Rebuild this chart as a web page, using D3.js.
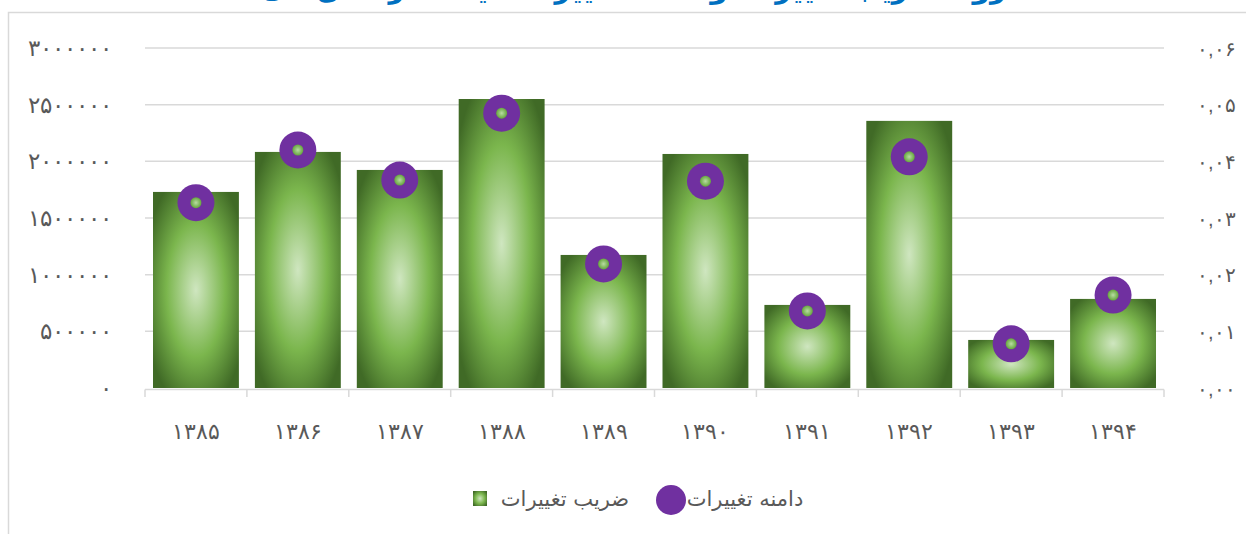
<!DOCTYPE html>
<html>
<head>
<meta charset="utf-8">
<script src="https://cdn.jsdelivr.net/npm/d3@7"></script>
<style>
  body { margin: 0; background: #fff; }
  svg { display: block; font-family: "DejaVu Sans", sans-serif; }
  .tickLabel { fill: #595959; font-size: 20px; }
  .leftLabel { font-size: 23px; }
  .legendLabel { fill: #595959; font-size: 21px; }
</style>
</head>
<body>
<div id="chart"></div>
<script>
// years (shamsi), bar values (left axis) and marker values (right axis)
var years = [1385, 1386, 1387, 1388, 1389, 1390, 1391, 1392, 1393, 1394];
var barValues = [1730000, 2083000, 1924000, 2550000, 1174000, 2065000, 733000, 2357000, 424000, 786000];
var rangeValues = [0.0327, 0.0420, 0.0367, 0.0485, 0.0219, 0.0365, 0.0136, 0.0408, 0.0078, 0.0164];
var leftTicks = [0, 500000, 1000000, 1500000, 2000000, 2500000, 3000000];
var rightTicks = [0, 0.01, 0.02, 0.03, 0.04, 0.05, 0.06];
var barName = "ضریب تغییرات";
var rangeName = "دامنه تغییرات";
var titleText = "روند ضریب تغییرات و دامنه تغییرات قیمت در سال‌های ۱۳۸۵ تا ۱۳۹۴";

var faDigits = "۰۱۲۳۴۵۶۷۸۹";
function toFa(s) {
  return String(s).replace(/[0-9]/g, function(d) { return faDigits[+d]; });
}

var width = 1246, height = 534;
var plotLeft = 145, plotRight = 1164, plotTop = 48, plotBottom = 388;

var svg = d3.select("#chart").append("svg")
  .attr("width", width)
  .attr("height", height);

var defs = svg.append("defs");

var barGrad = defs.append("radialGradient")
  .attr("id", "barGrad")
  .attr("cx", "50%").attr("cy", "50%").attr("r", "62%");
barGrad.append("stop").attr("offset", "0%").attr("stop-color", "#cfe6c0");
barGrad.append("stop").attr("offset", "55%").attr("stop-color", "#7bb64d");
barGrad.append("stop").attr("offset", "100%").attr("stop-color", "#406a26");

var dotGrad = defs.append("radialGradient")
  .attr("id", "dotGrad")
  .attr("cx", "50%").attr("cy", "50%").attr("r", "50%");
dotGrad.append("stop").attr("offset", "0%").attr("stop-color", "#b9dca2");
dotGrad.append("stop").attr("offset", "100%").attr("stop-color", "#64a53c");

// chart frame (extends past right and bottom edge)
svg.append("rect")
  .attr("x", 8.5).attr("y", 12.5)
  .attr("width", width + 20).attr("height", height + 20)
  .attr("fill", "none")
  .attr("stroke", "#d9d9d9")
  .attr("stroke-width", 1.5);

// title, mostly cut off by the top of the page
svg.append("text")
  .attr("x", 540)
  .attr("y", -2)
  .attr("text-anchor", "middle")
  .attr("fill", "#0070c0")
  .attr("font-weight", "bold")
  .attr("font-size", 28)
  .text(titleText);

var x = d3.scaleBand()
  .domain(years)
  .range([plotLeft, plotRight])
  .paddingInner(0.157)
  .paddingOuter(0.0785);

var yLeft = d3.scaleLinear().domain([0, 3000000]).range([plotBottom, plotTop]);
var yRight = d3.scaleLinear().domain([0, 0.06]).range([plotBottom, plotTop]);

// gridlines
svg.append("g")
  .selectAll("line")
  .data(leftTicks.slice(1))
  .enter()
  .append("line")
  .attr("x1", plotLeft).attr("x2", plotRight)
  .attr("y1", d => yLeft(d)).attr("y2", d => yLeft(d))
  .attr("stroke", "#d9d9d9")
  .attr("stroke-width", 1.5);

// left axis
var leftAxis = svg.append("g")
  .attr("transform", `translate(${plotLeft - 33}, 0)`)
  .call(d3.axisLeft(yLeft).tickValues(leftTicks).tickSize(0).tickPadding(0)
    .tickFormat(d => toFa(d)));
leftAxis.select(".domain").remove();
leftAxis.selectAll("text")
  .attr("class", "tickLabel leftLabel")
  .attr("font-family", null)
  .attr("font-size", null)
  .attr("dy", "0.33em");

// right axis
var rightAxis = svg.append("g")
  .attr("transform", `translate(${plotRight + 33}, 0)`)
  .call(d3.axisRight(yRight).tickValues(rightTicks).tickSize(0).tickPadding(0)
    .tickFormat(d => toFa(d.toFixed(2).replace(".", ","))));
rightAxis.select(".domain").remove();
rightAxis.selectAll("text")
  .attr("class", "tickLabel")
  .attr("font-family", null)
  .attr("font-size", null)
  .attr("dy", "0.35em");

// bars
svg.append("g")
  .selectAll("rect")
  .data(years)
  .enter()
  .append("rect")
  .attr("x", d => x(d))
  .attr("width", x.bandwidth())
  .attr("y", (d, i) => yLeft(barValues[i]))
  .attr("height", (d, i) => plotBottom - yLeft(barValues[i]))
  .attr("fill", "url(#barGrad)");

// x axis line with ticks at category edges
var step = x.step();
var edges = years.map(d => x(d) - step * x.paddingInner() / 2).concat([plotRight]);
var xAxisG = svg.append("g");
xAxisG.append("line")
  .attr("x1", plotLeft).attr("x2", plotRight)
  .attr("y1", plotBottom + 1.5).attr("y2", plotBottom + 1.5)
  .attr("stroke", "#d9d9d9").attr("stroke-width", 1.5);
xAxisG.selectAll(".edge")
  .data(edges)
  .enter()
  .append("line")
  .attr("class", "edge")
  .attr("x1", d => d).attr("x2", d => d)
  .attr("y1", plotBottom + 1.5).attr("y2", plotBottom + 9)
  .attr("stroke", "#d9d9d9").attr("stroke-width", 1.5);

var xAxis = svg.append("g")
  .attr("transform", `translate(0, ${plotBottom})`)
  .call(d3.axisBottom(x).tickSize(0).tickPadding(0).tickFormat(d => toFa(d)));
xAxis.select(".domain").remove();
xAxis.selectAll("text")
  .attr("class", "tickLabel")
  .attr("font-family", null)
  .attr("font-size", null)
  .style("font-size", "22px")
  .attr("dy", null)
  .attr("y", 51);

// markers
var markers = svg.append("g")
  .selectAll("g")
  .data(years)
  .enter()
  .append("g")
  .attr("transform", (d, i) => `translate(${x(d) + x.bandwidth() / 2}, ${yRight(rangeValues[i])})`);
markers.append("circle").attr("r", 18.5).attr("fill", "#7030a0");
markers.append("circle").attr("r", 5.5).attr("fill", "url(#dotGrad)");

// legend
var legend = svg.append("g");
legend.append("rect")
  .attr("x", 473).attr("y", 491)
  .attr("width", 14).attr("height", 15)
  .attr("fill", "url(#barGrad)");
legend.append("text")
  .attr("class", "legendLabel")
  .attr("x", 565).attr("y", 506)
  .attr("text-anchor", "middle")
  .text(barName);
legend.append("circle")
  .attr("cx", 671).attr("cy", 500)
  .attr("r", 15)
  .attr("fill", "#7030a0");
legend.append("text")
  .attr("class", "legendLabel")
  .attr("x", 745).attr("y", 506)
  .attr("text-anchor", "middle")
  .text(rangeName);
</script>
</body>
</html>
